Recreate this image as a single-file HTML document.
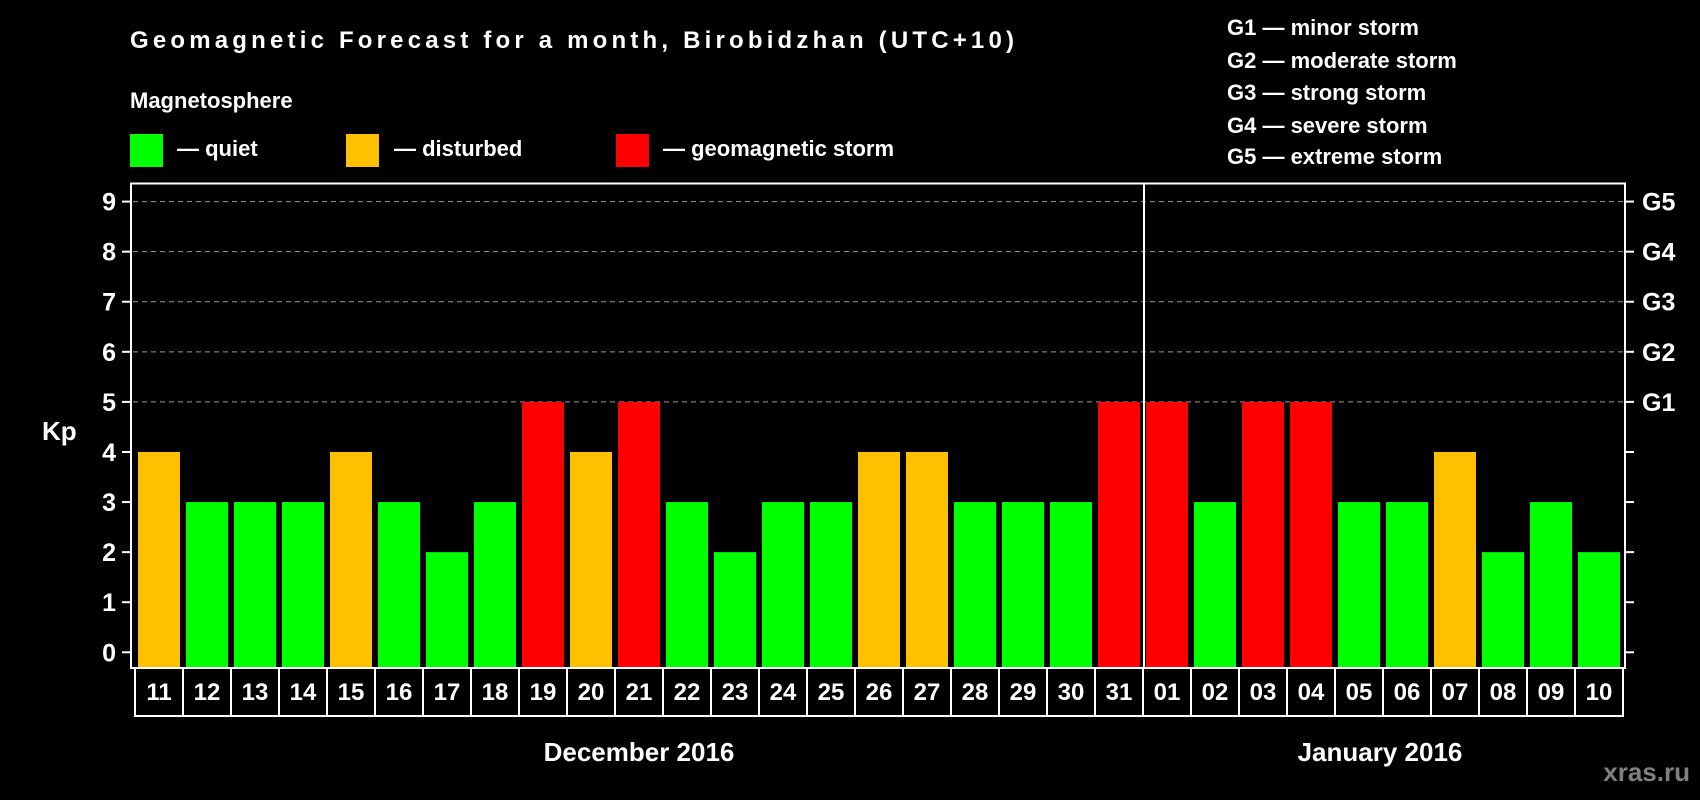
<!DOCTYPE html>
<html><head><meta charset="utf-8"><style>
html,body{margin:0;padding:0;background:#000;}
svg{display:block;font-family:"Liberation Sans",sans-serif;font-weight:bold;}
</style></head><body>
<svg width="1700" height="800" viewBox="0 0 1700 800">
<rect x="0" y="0" width="1700" height="800" fill="#000"/>
<text x="130" y="48" fill="#fff" font-size="24" textLength="884">Geomagnetic Forecast for a month, Birobidzhan (UTC+10)</text>
<text x="130" y="108" fill="#fff" font-size="22">Magnetosphere</text>
<g>
<rect x="130" y="134" width="33" height="33" fill="#00ff00"/>
<text x="177" y="156" fill="#fff" font-size="22">— quiet</text>
<rect x="346" y="134" width="33" height="33" fill="#ffc000"/>
<text x="394" y="156" fill="#fff" font-size="22">— disturbed</text>
<rect x="616" y="134" width="33" height="33" fill="#ff0000"/>
<text x="663" y="156" fill="#fff" font-size="22">— geomagnetic storm</text>
</g>
<g fill="#fff" font-size="22">
<text x="1227" y="35">G1 — minor storm</text>
<text x="1227" y="68">G2 — moderate storm</text>
<text x="1227" y="100">G3 — strong storm</text>
<text x="1227" y="133">G4 — severe storm</text>
<text x="1227" y="164">G5 — extreme storm</text>
</g>
<text x="42" y="440" fill="#fff" font-size="26">Kp</text>
<g id="plot"></g>
<text x="639" y="761" fill="#fff" font-size="26" text-anchor="middle">December 2016</text>
<text x="1380" y="761" fill="#fff" font-size="26" text-anchor="middle">January 2016</text>
<text x="1690" y="781" fill="#808080" font-size="26" text-anchor="end">xras.ru</text>
</svg>
<script>
const days = ["11","12","13","14","15","16","17","18","19","20","21","22","23","24","25","26","27","28","29","30","31","01","02","03","04","05","06","07","08","09","10"];
const kp = [4,3,3,3,4,3,2,3,5,4,5,3,2,3,3,4,4,3,3,3,5,5,3,5,5,3,3,4,2,3,2];
const yTicks = [0,1,2,3,4,5,6,7,8,9];
const gLabels = ["G1","G2","G3","G4","G5"];
const gLevels = [5,6,7,8,9];
const NS = "http://www.w3.org/2000/svg";
const g = document.getElementById("plot");
const y = v => 652.3 - v * 50.08;
const slotX = i => 135 + 48 * i;
function mk(tag, attrs){const e=document.createElementNS(NS,tag);for(const k in attrs)e.setAttribute(k,attrs[k]);g.appendChild(e);return e;}
// gridlines
gLevels.forEach((v,i)=>{
  const l=mk("line",{x1:133,x2:1623,y1:y(v),y2:y(v),stroke:"#999","stroke-dasharray":"5,4","stroke-width":1});
  
  
  const t=mk("text",{x:1642,y:y(v)+9,fill:"#fff","font-size":25});
  t.textContent=gLabels[i];
  
  
});
// bars
kp.forEach((v,i)=>{
  const col = v>=5?"#ff0000":(v>=4?"#ffc000":"#00ff00");
  const r=mk("rect",{x:slotX(i)+3,y:y(v),width:42,height:668-y(v),fill:col});
  
  
});
// y ticks
yTicks.forEach(v=>{
  const l=mk("line",{x1:122,x2:131,y1:y(v),y2:y(v),stroke:"#fff","stroke-width":2});
  
  
  const r=mk("line",{x1:1625,x2:1634,y1:y(v),y2:y(v),stroke:"#fff","stroke-width":2});
  
  
  const t=mk("text",{x:116,y:y(v)+9,fill:"#fff","font-size":25,"text-anchor":"end"});
  t.textContent=v;
  
  
});
// frame
const fr=mk("rect",{x:131,y:183.5,width:1494,height:484.5,fill:"none",stroke:"#fff","stroke-width":2});


const sep=mk("line",{x1:slotX(21)+1,x2:slotX(21)+1,y1:183,y2:668,stroke:"#fff","stroke-width":2});


// day label boxes
const bl=mk("line",{x1:slotX(0),x2:slotX(days.length),y1:716,y2:716,stroke:"#fff","stroke-width":2});


for(let i=0;i<=days.length;i++){
  const l=mk("line",{x1:slotX(i),x2:slotX(i),y1:668,y2:717,stroke:"#fff","stroke-width":2});
  
  
}
days.forEach((d,i)=>{
  const t=mk("text",{x:slotX(i)+24,y:700,fill:"#fff","font-size":24,"text-anchor":"middle"});
  t.textContent=d;
  
  
});
</script>
</body></html>
